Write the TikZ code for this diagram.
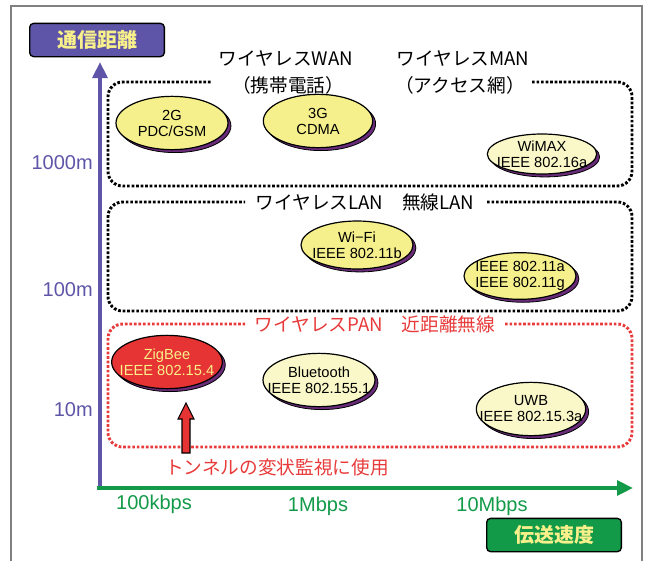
\documentclass[tikz,border=0pt]{standalone}
\usepackage{fontspec}
\setmainfont{Liberation Sans}
\newfontfamily\jp{Noto Sans CJK JP}
\usetikzlibrary{arrows.meta,shadows,shapes.geometric}

\definecolor{axisblue}{HTML}{5E55A8}
\definecolor{axisgreen}{HTML}{129A48}
\definecolor{techyellow}{HTML}{F5F08C}
\definecolor{techpale}{HTML}{FAF7C8}
\definecolor{zigred}{HTML}{E63333}
\definecolor{shadowpurple}{HTML}{6A2C7A}
\definecolor{panred}{HTML}{E83A3A}
\definecolor{labyellow}{HTML}{F8F08A}

\begin{document}
\begin{tikzpicture}[x=0.75pt,y=-0.75pt,
    tech/.style={ellipse,draw=black,line width=0.9pt,fill=techyellow,align=center,
      inner xsep=-30pt,inner ysep=-12pt,
      font=\fontsize{11}{12}\selectfont,
      copy shadow={shadow xshift=2.2pt,shadow yshift=-2.2pt,fill=shadowpurple,draw=black,line width=0.6pt}},
    dotbox/.style={line width=2.2pt,dash pattern=on 2pt off 1.4pt,rounded corners=11pt},
    netlab/.style={font=\jp\fontsize{14}{16}\selectfont,inner sep=1pt},
    axlab/.style={font=\fontsize{15}{17}\selectfont,inner sep=0pt},
    titlebox/.style={draw=black,line width=1pt,rounded corners=3pt,minimum width=101pt,minimum height=25pt,
      text=labyellow,font=\jp\bfseries\fontsize{15}{17}\selectfont}]
  \useasboundingbox (0,0) rectangle (652,561);

  % frame
  \draw[gray,line width=1.1pt] (11,561) -- (11,6) -- (642,6) -- (642,561);

  % axes
  \node[titlebox,fill=axisblue] (dist) at (97,40) {通信距離};
  \node[titlebox,fill=axisgreen] (rate) at (554,535) {伝送速度};
  \draw[axisblue,line width=3pt,-{Triangle[length=12pt,width=11pt]}] (100,490) -- (100,62);
  \draw[axisgreen,line width=3pt,-{Triangle[length=12pt,width=11pt]}] (97,488) -- (633,488);

  \node[axlab,text=axisblue,anchor=east] (m1000) at (93,163) {1000m};
  \node[axlab,text=axisblue,anchor=east] (m100) at (93,290) {100m};
  \node[axlab,text=axisblue,anchor=east] (m10) at (93,410) {10m};
  \node[axlab,text=axisgreen] (k100) at (154,504) {100kbps};
  \node[axlab,text=axisgreen] (M1) at (318,506) {1Mbps};
  \node[axlab,text=axisgreen] (M10) at (492,506) {10Mbps};

  % network classes
  \node[netlab] (wan) at (286,58) {ワイヤレスWAN};
  \node[netlab] (wan2) at (288,85) {（携帯電話）};
  \node[netlab] (man) at (463,58) {ワイヤレスMAN};
  \node[netlab] (man2) at (460,85) {（アクセス網）};
  \node[netlab] (lan) at (365,202) {ワイヤレスLAN\quad 無線LAN};
  \node[netlab,text=panred] (pan) at (375,324) {ワイヤレスPAN\quad 近距離無線};

  \draw[dotbox] (532,82) -| (632,186) -| (108,82) -- (212,82);
  \draw[dotbox] (487,202) -| (632,311) -| (108,202) -- (245,202);
  \draw[dotbox,panred] (505,324) -| (632,447) -| (108,324) -- (245,324);

  % technologies
  \node[tech,minimum width=84pt,minimum height=40pt] (g2) at (172,123) {2G\\PDC/GSM};
  \node[tech,minimum width=82pt,minimum height=40pt] (g3) at (318,121) {3G\\CDMA};
  \node[tech,fill=techpale,minimum width=82pt,minimum height=30pt] (wimax) at (542,154) {WiMAX\\IEEE 802.16a};
  \node[tech,minimum width=84pt,minimum height=36pt] (wifi) at (357,245) {Wi−Fi\\IEEE 802.11b};
  \node[tech,minimum width=84pt,minimum height=35pt] (ieee11) at (520,276) {IEEE 802.11a\\IEEE 802.11g};
  \node[tech,fill=zigred,text=labyellow,minimum width=83pt,minimum height=40pt] (zig) at (167,362) {ZigBee\\IEEE 802.15.4};
  \node[tech,fill=techpale,minimum width=84pt,minimum height=40pt] (bt) at (319,380) {Bluetooth\\IEEE 802.155.1};
  \node[tech,fill=techpale,minimum width=82pt,minimum height=40pt] (uwb) at (531,409) {UWB\\IEEE 802.15.3a};

  % tunnel monitoring note
  \node[netlab,text=panred] (note) at (277,467) {トンネルの変状監視に使用};
  \draw[fill=zigred,line width=0.8pt] (182,453) -- (182,419) -- (178,419) -- (186,403)
    -- (194,419) -- (190,419) -- (190,453) -- cycle;
\end{tikzpicture}
\end{document}
